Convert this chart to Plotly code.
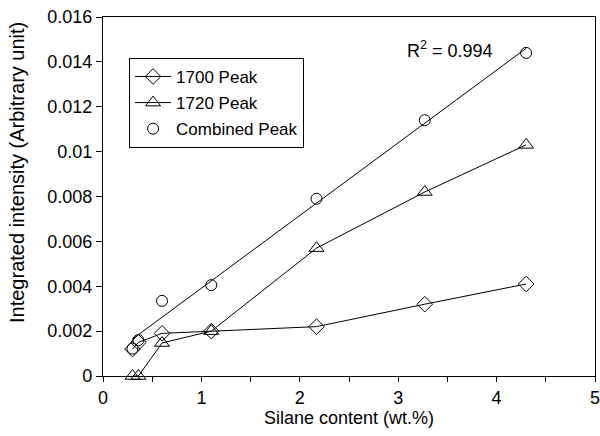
import numpy as np
import plotly.graph_objects as go

silane = [0.3, 0.36, 0.6, 1.1, 2.17, 3.27, 4.3]
peak_1700 = [0.0012, 0.0015, 0.0019, 0.0020, 0.0022, 0.0032, 0.0041]
peak_1720 = [0.0, 0.0, 0.00147, 0.0020, 0.0057, 0.0082, 0.0103]
combined = [0.00122, 0.0016, 0.00335, 0.00405, 0.0079, 0.0114, 0.0144]

slope, intercept = np.polyfit(silane, combined, 1)
fit_x = [min(silane), max(silane)]
fit_y = [slope * x + intercept for x in fit_x]

FONT = "Arial, Liberation Sans, sans-serif"
fig = go.Figure()

fig.add_trace(go.Scatter(x=fit_x, y=fit_y, mode="lines",
                         line=dict(color="black", width=1), showlegend=False,
                         hoverinfo="skip"))
fig.add_trace(go.Scatter(x=silane, y=peak_1700, mode="lines+markers", name="1700 Peak",
                         legendgroup="a",
                         line=dict(color="black", width=1),
                         marker=dict(symbol="diamond-open", size=12, color="black",
                                     line=dict(width=1, color="black")),
                         cliponaxis=False))
fig.add_trace(go.Scatter(x=silane, y=peak_1720, mode="lines+markers", name="1720 Peak",
                         legendgroup="b",
                         line=dict(color="black", width=1),
                         marker=dict(symbol="triangle-up-open", size=13, color="black",
                                     line=dict(width=1, color="black")),
                         cliponaxis=False))
fig.add_trace(go.Scatter(x=silane, y=combined, mode="markers", name="Combined Peak",
                         legendgroup="c",
                         marker=dict(symbol="circle-open", size=11, color="black",
                                     line=dict(width=1, color="black")),
                         cliponaxis=False))

fig.add_annotation(x=3.53, y=0.01453, xref="x", yref="y", text="R<sup>2</sup> = 0.994",
                   showarrow=False, font=dict(size=18, color="black", family=FONT))
fig.add_annotation(x=-0.175, y=0.568, xref="paper", yref="paper", textangle=-90,
                   text="Integrated intensity (Arbitrary unit)", showarrow=False,
                   xanchor="center", yanchor="middle",
                   font=dict(size=20, color="black", family=FONT))

fig.update_layout(
    width=600, height=436,
    margin=dict(l=103, r=5, t=17, b=60),
    paper_bgcolor="white", plot_bgcolor="white",
    font=dict(family=FONT, size=18, color="black"),
    legend=dict(x=0.053, y=0.886, xanchor="left", yanchor="top",
                bordercolor="black", borderwidth=1, bgcolor="white",
                font=dict(size=17), traceorder="grouped", tracegroupgap=1,
                itemwidth=36),
    xaxis=dict(range=[0, 5], dtick=1, tick0=0, ticks="outside", ticklen=5,
               tickcolor="black", showline=True, linecolor="black", linewidth=1,
               mirror=True, showgrid=False, zeroline=False, automargin=False,
               tickfont=dict(size=18), ticklabeloverflow="allow",
               minor=dict(dtick=0.5, ticks="outside", ticklen=5, tickcolor="black"),
               title=dict(text="Silane content (wt.%)", font=dict(size=18), standoff=4)),
    yaxis=dict(range=[0, 0.016], dtick=0.002, tick0=0, ticks="outside", ticklen=6,
               tickcolor="black", showline=True, linecolor="black", linewidth=1.2,
               mirror=True, showgrid=False, zeroline=False, automargin=False,
               tickfont=dict(size=18), ticklabeloverflow="allow"),
)

fig.write_html("out.html", config={"displayModeBar": False},
               post_script="document.body.style.margin='0';"
                           "document.body.style.overflow='hidden';"
                           "document.documentElement.style.overflow='hidden';")
